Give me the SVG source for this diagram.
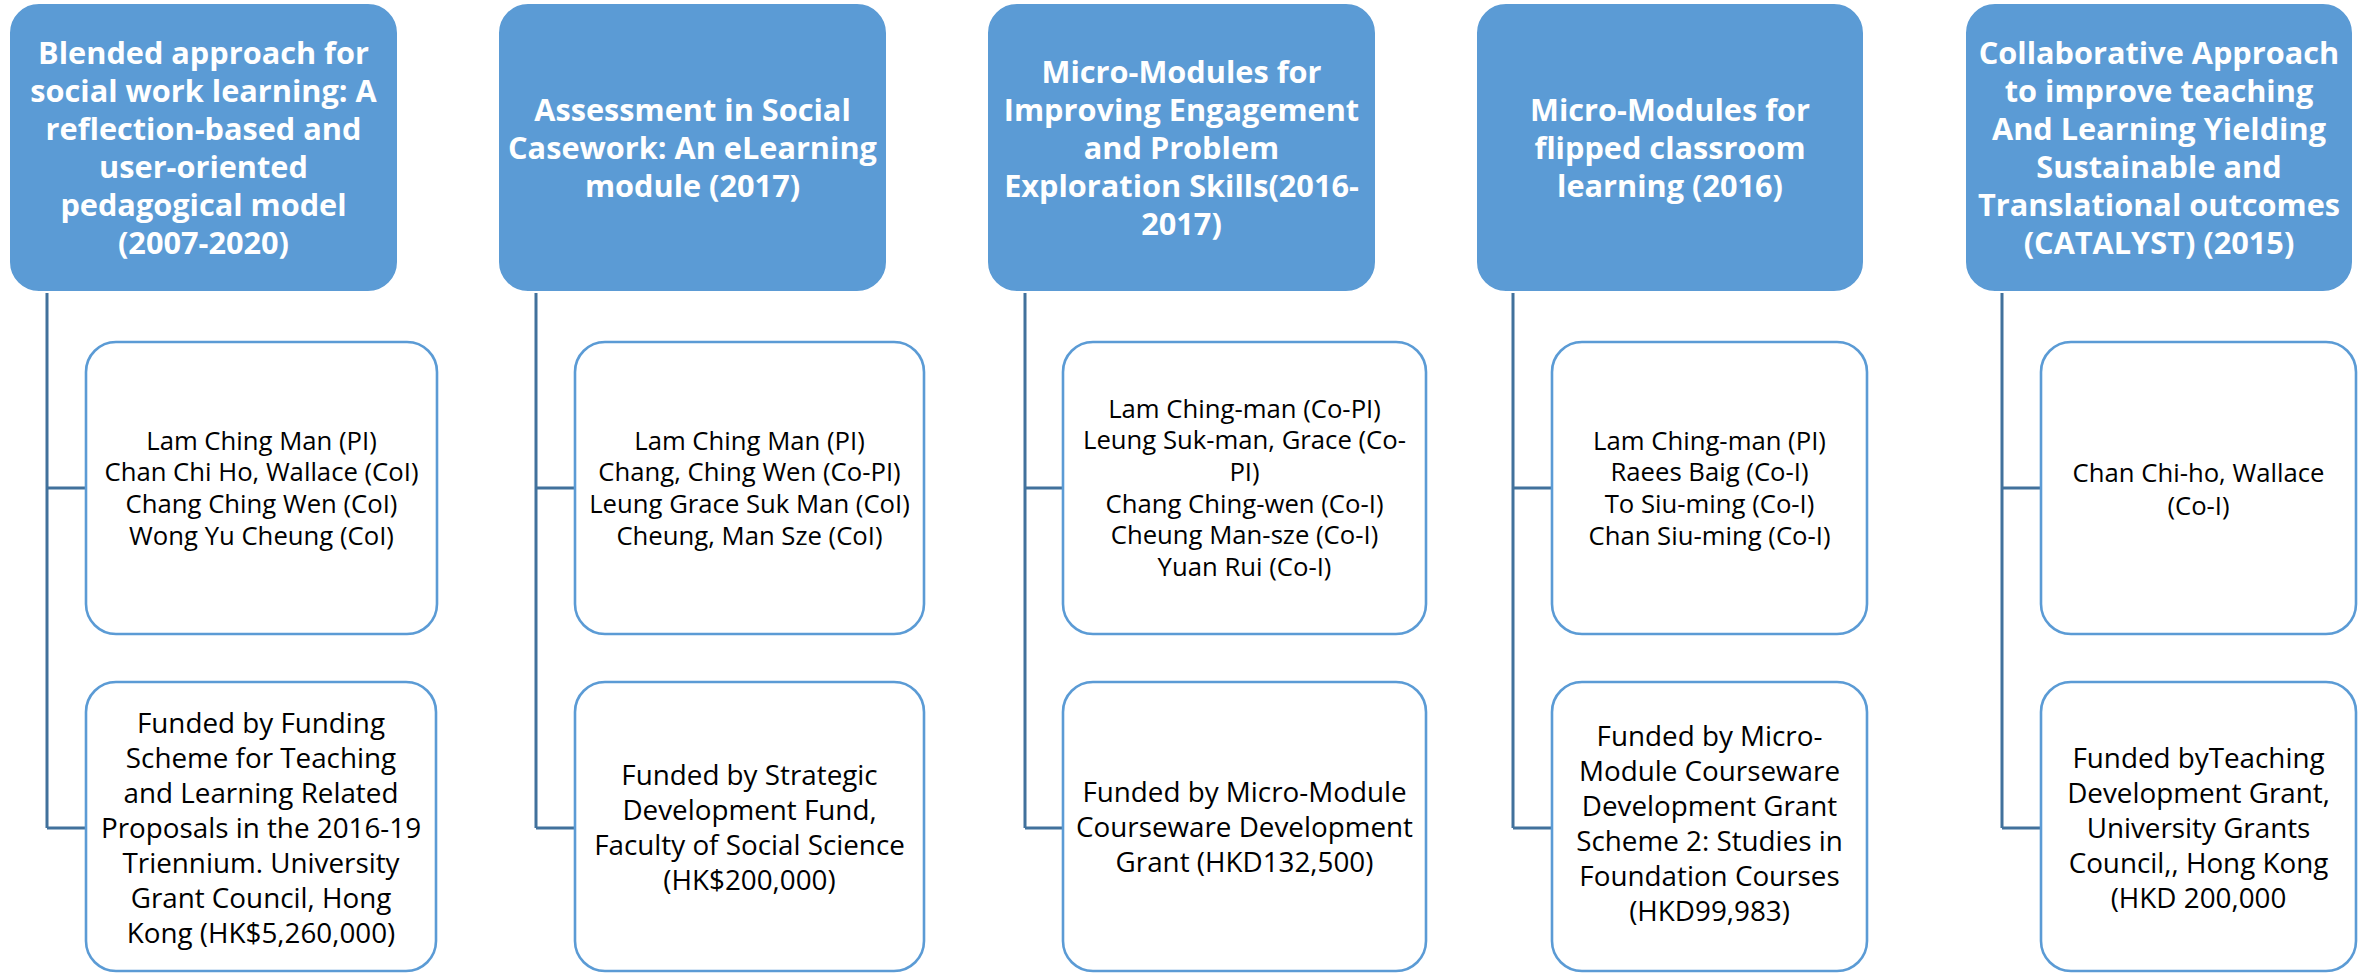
<svg xmlns="http://www.w3.org/2000/svg" width="2369" height="973" viewBox="0 0 2369 973">
<style>
.hdr{fill:#5B9BD5;stroke:#FFFFFF;stroke-width:2}
.box{fill:#FFFFFF;stroke:#5B9BD5;stroke-width:2.6}
.conn{fill:none;stroke:#41719C;stroke-width:3}
.ht{font-family:"Open Sans","Noto Sans",sans-serif;font-weight:bold;font-size:30.7px;fill:#FFFFFF;text-anchor:middle}
.pt{font-family:"Open Sans","Noto Sans",sans-serif;font-size:25.7px;fill:#000000;text-anchor:middle}
.ft{font-family:"Open Sans","Noto Sans",sans-serif;font-size:27.8px;fill:#000000;text-anchor:middle}
</style>
<rect width="2369" height="973" fill="#FFFFFF"/>
<g id="connectors">
<path class="conn" d="M47 292V828M47 488H86M47 828H86"/>
<path class="conn" d="M536 292V828M536 488H575M536 828H575"/>
<path class="conn" d="M1025 292V828M1025 488H1063M1025 828H1063"/>
<path class="conn" d="M1513 292V828M1513 488H1552M1513 828H1552"/>
<path class="conn" d="M2002 292V828M2002 488H2041M2002 828H2041"/>
</g>
<g id="header1"><rect class="hdr" x="9" y="3" width="389" height="289" rx="30"/>
<text class="ht" x="203.5" y="63.5"><tspan x="203.5">Blended approach for</tspan><tspan x="203.5" dy="38">social work learning: A</tspan><tspan x="203.5" dy="38">reflection-based and</tspan><tspan x="203.5" dy="38">user-oriented</tspan><tspan x="203.5" dy="38">pedagogical model</tspan><tspan x="203.5" dy="38">(2007-2020)</tspan></text></g>
<g id="team1"><rect class="box" x="86" y="342" width="351" height="292" rx="30"/>
<text class="pt" x="261.5" y="449.5"><tspan x="261.5">Lam Ching Man (PI)</tspan><tspan x="261.5" dy="31.7">Chan Chi Ho, Wallace (CoI)</tspan><tspan x="261.5" dy="31.7">Chang Ching Wen (CoI)</tspan><tspan x="261.5" dy="31.7">Wong Yu Cheung (CoI)</tspan></text></g>
<g id="fund1"><rect class="box" x="86" y="682" width="350" height="289" rx="30"/>
<text class="ft" x="261" y="732.5"><tspan x="261">Funded by Funding</tspan><tspan x="261" dy="35">Scheme for Teaching</tspan><tspan x="261" dy="35">and Learning Related</tspan><tspan x="261" dy="35">Proposals in the 2016-19</tspan><tspan x="261" dy="35">Triennium. University</tspan><tspan x="261" dy="35">Grant Council, Hong</tspan><tspan x="261" dy="35">Kong (HK$5,260,000)</tspan></text></g>

<g id="header2"><rect class="hdr" x="498" y="3" width="389" height="289" rx="30"/>
<text class="ht" x="692.5" y="120.5"><tspan x="692.5">Assessment in Social</tspan><tspan x="692.5" dy="38">Casework: An eLearning</tspan><tspan x="692.5" dy="38">module (2017)</tspan></text></g>
<g id="team2"><rect class="box" x="575" y="342" width="349" height="292" rx="30"/>
<text class="pt" x="749.5" y="449.5"><tspan x="749.5">Lam Ching Man (PI)</tspan><tspan x="749.5" dy="31.7">Chang, Ching Wen (Co-PI)</tspan><tspan x="749.5" dy="31.7">Leung Grace Suk Man (CoI)</tspan><tspan x="749.5" dy="31.7">Cheung, Man Sze (CoI)</tspan></text></g>
<g id="fund2"><rect class="box" x="575" y="682" width="349" height="289" rx="30"/>
<text class="ft" x="749.5" y="785"><tspan x="749.5">Funded by Strategic</tspan><tspan x="749.5" dy="35">Development Fund,</tspan><tspan x="749.5" dy="35">Faculty of Social Science</tspan><tspan x="749.5" dy="35">(HK$200,000)</tspan></text></g>

<g id="header3"><rect class="hdr" x="987" y="3" width="389" height="289" rx="30"/>
<text class="ht" x="1181.5" y="82.5"><tspan x="1181.5">Micro-Modules for</tspan><tspan x="1181.5" dy="38">Improving Engagement</tspan><tspan x="1181.5" dy="38">and Problem</tspan><tspan x="1181.5" dy="38">Exploration Skills(2016-</tspan><tspan x="1181.5" dy="38">2017)</tspan></text></g>
<g id="team3"><rect class="box" x="1063" y="342" width="363" height="292" rx="30"/>
<text class="pt" x="1244.5" y="417.5"><tspan x="1244.5">Lam Ching-man (Co-PI)</tspan><tspan x="1244.5" dy="31.7">Leung Suk-man, Grace (Co-</tspan><tspan x="1244.5" dy="31.7">PI)</tspan><tspan x="1244.5" dy="31.7">Chang Ching-wen (Co-I)</tspan><tspan x="1244.5" dy="31.7">Cheung Man-sze (Co-I)</tspan><tspan x="1244.5" dy="31.7">Yuan Rui (Co-I)</tspan></text></g>
<g id="fund3"><rect class="box" x="1063" y="682" width="363" height="289" rx="30"/>
<text class="ft" x="1244.5" y="802"><tspan x="1244.5">Funded by Micro-Module</tspan><tspan x="1244.5" dy="35">Courseware Development</tspan><tspan x="1244.5" dy="35">Grant (HKD132,500)</tspan></text></g>

<g id="header4"><rect class="hdr" x="1476" y="3" width="388" height="289" rx="30"/>
<text class="ht" x="1670" y="120.5"><tspan x="1670">Micro-Modules for</tspan><tspan x="1670" dy="38">flipped classroom</tspan><tspan x="1670" dy="38">learning (2016)</tspan></text></g>
<g id="team4"><rect class="box" x="1552" y="342" width="315" height="292" rx="30"/>
<text class="pt" x="1709.5" y="449.5"><tspan x="1709.5">Lam Ching-man (PI)</tspan><tspan x="1709.5" dy="31.7">Raees Baig (Co-I)</tspan><tspan x="1709.5" dy="31.7">To Siu-ming (Co-I)</tspan><tspan x="1709.5" dy="31.7">Chan Siu-ming (Co-I)</tspan></text></g>
<g id="fund4"><rect class="box" x="1552" y="682" width="315" height="289" rx="30"/>
<text class="ft" x="1709.5" y="746"><tspan x="1709.5">Funded by Micro-</tspan><tspan x="1709.5" dy="35">Module Courseware</tspan><tspan x="1709.5" dy="35">Development Grant</tspan><tspan x="1709.5" dy="35">Scheme 2: Studies in</tspan><tspan x="1709.5" dy="35">Foundation Courses</tspan><tspan x="1709.5" dy="35">(HKD99,983)</tspan></text></g>

<g id="header5"><rect class="hdr" x="1965" y="3" width="388" height="289" rx="30"/>
<text class="ht" x="2159" y="63.5"><tspan x="2159">Collaborative Approach</tspan><tspan x="2159" dy="38">to improve teaching</tspan><tspan x="2159" dy="38">And Learning Yielding</tspan><tspan x="2159" dy="38">Sustainable and</tspan><tspan x="2159" dy="38">Translational outcomes</tspan><tspan x="2159" dy="38">(CATALYST) (2015)</tspan></text></g>
<g id="team5"><rect class="box" x="2041" y="342" width="315" height="292" rx="30"/>
<text class="pt" x="2198.5" y="482"><tspan x="2198.5">Chan Chi-ho, Wallace</tspan><tspan x="2198.5" dy="33">(Co-I)</tspan></text></g>
<g id="fund5"><rect class="box" x="2041" y="682" width="315" height="289" rx="30"/>
<text class="ft" x="2198.5" y="768"><tspan x="2198.5">Funded byTeaching</tspan><tspan x="2198.5" dy="35">Development Grant,</tspan><tspan x="2198.5" dy="35">University Grants</tspan><tspan x="2198.5" dy="35">Council,, Hong Kong</tspan><tspan x="2198.5" dy="35">(HKD 200,000</tspan></text></g>
</svg>
